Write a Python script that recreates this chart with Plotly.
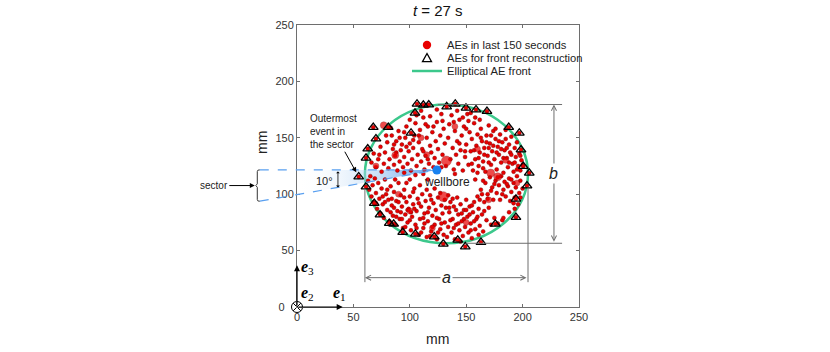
import math
import plotly.graph_objects as go

# fitted elliptical AE front at t = 27 s (mm)
front_center = (132.5, 118.0)
front_semi_axes = (72.3, 61.5)

wellbore = (124.0, 121.5)
sector_deg = 10
sector_reach = -33.0  # mm, left end of the dashed sector lines

# AEs in the last 150 s, split by quadrant around the front centre (mm)
ae_upper_left = [
    (66, 128), (68, 136), (70, 124), (72, 131), (74, 142), (75, 120), (77, 127), (78, 137), (80, 146), (81, 123),
    (82, 131), (84, 152), (85, 140), (86, 126), (87, 134), (88, 147), (89, 121), (90, 156), (91, 129), (92, 139),
    (93, 144), (94, 124), (95, 133), (96, 150), (97, 160), (98, 127), (99, 138), (100, 145), (101, 121), (102, 131),
    (103, 141), (104, 152), (105, 163), (106, 125), (107, 135), (108, 146), (109, 157), (110, 129), (111, 140), (112, 168),
    (113, 122), (114, 134), (115, 150), (116, 160), (117, 127), (118, 143), (119, 137), (120, 155), (121, 124), (122, 132),
    (123, 147), (124, 164), (125, 140), (126, 128), (127, 152), (128, 171), (129, 135), (130, 158), (131, 145), (132, 125),
    (110, 174), (118, 169), (124, 175), (100, 166), (95, 155), (86, 144), (79, 152), (73, 135), (83, 159), (106, 170),
    (114, 162), (121, 160), (129, 165), (103, 148), (97, 142), (91, 150), (88, 137), (112, 138), (116, 131), (108, 152),
    (112, 118), (116, 113), (105, 117), (100, 113), (95, 119), (128, 124),
]
ae_upper_right = [
    (134, 150), (135, 162), (136, 131), (137, 170), (138, 141), (139, 122), (140, 156), (141, 135), (142, 147), (143, 127),
    (144, 166), (145, 139), (146, 152), (147, 121), (148, 160), (149, 133), (150, 144), (151, 171), (152, 126), (153, 155),
    (154, 138), (155, 149), (156, 121), (157, 163), (158, 131), (159, 143), (160, 153), (161, 125), (162, 137), (163, 158),
    (164, 147), (165, 129), (166, 141), (167, 120), (168, 152), (169, 134), (170, 161), (171, 145), (172, 126), (173, 138),
    (174, 156), (175, 131), (176, 149), (177, 122), (178, 142), (179, 135), (180, 153), (181, 128), (182, 146), (183, 119),
    (184, 139), (185, 157), (186, 132), (187, 124), (188, 144), (189, 137), (190, 151), (191, 127), (192, 120), (193, 141),
    (194, 133), (195, 146), (196, 125), (197, 136), (198, 121), (199, 130), (200, 126), (152, 165), (158, 168), (163, 150),
    (166, 135), (170, 128), (174, 143), (177, 137), (179, 147), (183, 132), (186, 141), (188, 128), (190, 135), (161, 132),
    (157, 139), (168, 146), (172, 152), (176, 158), (181, 140), (185, 149), (193, 128), (170, 141), (165, 123), (160, 119),
    (155, 127), (149, 138), (144, 145), (139, 164), (142, 174), (147, 168), (154, 172), (162, 166), (150, 158), (195, 122),
    (198, 134), (140, 118),
]
ae_lower_left = [
    (63, 112), (64, 104), (65, 116), (66, 98), (67, 108), (68, 93), (69, 114), (70, 101), (71, 87), (72, 110),
    (73, 96), (74, 83), (75, 105), (76, 91), (77, 79), (78, 113), (79, 100), (80, 86), (81, 95), (82, 76),
    (83, 107), (84, 90), (85, 81), (86, 102), (87, 73), (88, 94), (89, 85), (90, 110), (91, 78), (92, 99),
    (93, 89), (94, 70), (95, 104), (96, 82), (97, 93), (98, 75), (99, 87), (100, 98), (101, 68), (102, 80),
    (103, 91), (104, 105), (105, 73), (106, 85), (107, 96), (108, 64), (109, 78), (110, 89), (111, 100), (112, 70),
    (113, 83), (114, 94), (115, 62), (116, 76), (117, 88), (118, 99), (119, 67), (120, 81), (121, 92), (122, 73),
    (123, 86), (124, 60), (125, 97), (126, 78), (127, 69), (128, 90), (129, 83), (130, 64), (131, 75), (132, 88),
    (80, 104), (86, 88), (92, 84), (96, 71), (100, 77), (104, 87), (108, 92), (112, 79), (116, 84), (120, 71),
    (124, 79), (128, 74), (110, 66), (118, 63), (106, 70), (98, 86), (88, 80), (84, 96), (76, 98), (70, 92),
    (115, 104), (103, 102), (95, 97), (90, 93), (119, 95), (125, 66), (113, 74), (101, 84), (131, 95), (127, 101),
    (122, 105), (109, 108), (97, 110), (87, 113), (78, 93), (83, 84), (93, 78),
]
ae_lower_right = [
    (133, 62), (134, 71), (135, 84), (136, 93), (137, 66), (138, 78), (139, 89), (140, 60), (141, 73), (142, 97),
    (143, 82), (144, 68), (145, 91), (146, 76), (147, 63), (148, 86), (149, 71), (150, 95), (151, 80), (152, 66),
    (153, 89), (154, 74), (155, 61), (156, 84), (157, 93), (158, 69), (159, 78), (160, 98), (161, 87), (162, 72),
    (163, 104), (164, 82), (165, 67), (166, 93), (167, 110), (168, 77), (169, 100), (170, 88), (171, 115), (172, 73),
    (173, 106), (174, 95), (175, 79), (176, 112), (177, 101), (178, 74), (179, 108), (180, 95), (181, 116), (182, 77),
    (183, 104), (184, 111), (185, 98), (183, 79), (187, 107), (188, 114), (189, 94), (190, 102), (188, 84), (192, 110),
    (193, 97), (194, 106), (195, 116), (196, 91), (197, 101), (198, 112), (198, 97), (200, 105), (165, 112), (169, 96),
    (172, 103), (175, 109), (178, 115), (182, 100), (186, 109), (190, 113), (164, 100), (158, 113), (162, 95), (166, 85),
    (160, 80), (155, 90), (150, 86), (146, 83), (143, 74), (139, 70), (136, 77), (141, 86), (148, 78), (153, 82),
    (157, 76), (161, 64), (154, 68), (145, 58), (135, 88), (138, 96), (134, 99), (192, 92), (193, 87),
]

# stronger events (drawn with bigger dots)
big_x = [132.4, 129.7, 171.7, 177.9, 76.9, 87.1, 110, 160, 150, 100, 185, 90, 170, 120, 140, 70, 195, 115]
big_y = [129.4, 97.8, 118.8, 115.5, 161.1, 134.5, 150, 140, 75, 85, 130, 100, 95, 70, 160, 125, 110, 135]
big_size = [10, 10, 8, 8, 7, 7, 6, 6, 6, 6, 6, 6, 6, 6, 6, 6, 6, 6]

# events used for the front reconstruction
front_x = [106.4, 112.0, 116.8, 132.7, 140.3, 149.8, 158.7, 168.4, 104.6, 67.6, 80.9, 101.1, 187.7,
           197.1, 70.0, 62.7, 61.2, 198.6, 200.6, 205.9, 203.9, 54.7, 61.2, 194.1, 68.5, 73.6, 194.1,
           81.8, 85.7, 175.8, 93.7, 104.9, 121.7, 142.5, 129.7, 149.2, 163.1]
front_y = [180.0, 179.1, 179.3, 177.6, 180.0, 176.4, 174.9, 173.5, 172.0, 159.3, 159.3, 154.3, 159.3,
           154.3, 149.2, 140.3, 132.1, 139.4, 124.7, 118.8, 107.5, 115.5, 106.6, 95.7, 91.9, 81.8, 79.5,
           74.2, 73.6, 73.6, 66.2, 64.7, 62.3, 59.4, 55.9, 53.5, 57.4]
outermost = (54.7, 115.5)

legend_labels = ["AEs in last 150 seconds", "AEs for front reconstruction", "Elliptical AE front"]

FONT = "Liberation Sans, Arial, sans-serif"
SERIF = "Liberation Serif, Times New Roman, serif"
RED = "rgb(232,0,0)"
GREEN = "rgb(60,200,140)"
BLUE = "rgb(25,130,240)"
GRAY = "#6e6e6e"
AX = 250.0  # axis span, both axes go 0..250
PLOT_PX = 282.0  # plot area side in pixels
L, T = 297, 25   # plot area offset in the page


def paper(v):
    return v / AX


def pix(px, py):
    # page pixel -> paper coords (for hand-placed decorations)
    return (px - L) / PLOT_PX, (T + PLOT_PX - py) / PLOT_PX


all_ae = ae_upper_left + ae_upper_right + ae_lower_left + ae_lower_right
ae_x = [p[0] for p in all_ae]
ae_y = [p[1] for p in all_ae]

cx, cy = front_center
sa, sb = front_semi_axes
wx, wy = wellbore
tan_s = math.tan(math.radians(sector_deg))
low_y_left = wy - (wx - sector_reach) * tan_s

fig = go.Figure()

# sector wedge, fading out to the left
wedge_left = 0.0
fig.add_trace(go.Scatter(
    x=[wedge_left, wx, wedge_left, wedge_left],
    y=[wy, wy, wy - (wx - wedge_left) * tan_s, wy],
    mode="lines", line=dict(width=0), fill="toself",
    fillgradient=dict(type="horizontal",
                      colorscale=[[0, "rgba(255,255,255,0)"], [0.45, "rgba(185,215,245,0.45)"],
                                  [1, "rgba(70,145,230,0.9)"]]),
    showlegend=False, hoverinfo="skip"))

dot_line = dict(width=0.4, color="rgb(110,0,0)")
fig.add_trace(go.Scatter(x=ae_x + front_x, y=ae_y + front_y, mode="markers",
                         marker=dict(size=4, color=RED, line=dot_line), showlegend=False))
fig.add_trace(go.Scatter(x=big_x, y=big_y, mode="markers",
                         marker=dict(size=big_size, color=RED, line=dot_line), showlegend=False))
fig.add_trace(go.Scatter(x=front_x, y=front_y, mode="markers",
                         marker=dict(symbol="triangle-up-open", size=8.5, color="black", line=dict(width=1.3)),
                         showlegend=False))
fig.add_trace(go.Scatter(x=[wx], y=[wy], mode="markers",
                         marker=dict(size=9, color=BLUE), showlegend=False))
# e2 axis (out of plane)
fig.add_trace(go.Scatter(x=[0], y=[0], mode="markers", cliponaxis=False,
                         marker=dict(symbol="circle-x-open", size=11, color="black", line=dict(width=1)),
                         showlegend=False))

shapes = []
# the elliptical front
shapes.append(dict(type="circle", xref="x", yref="y", x0=cx - sa, x1=cx + sa, y0=cy - sb, y1=cy + sb,
                   line=dict(color=GREEN, width=2.5), layer="below"))
# dashed sector edges (run past the axis, so in paper units)
for y_end in (wy, low_y_left):
    shapes.append(dict(type="line", xref="paper", yref="paper",
                       x0=paper(sector_reach), y0=paper(y_end), x1=paper(wx), y1=paper(wy),
                       line=dict(color="rgb(90,160,240)", width=1.2, dash="dash")))
# brace next to "sector"
bx0, bx1 = paper(sector_reach - 3.5), paper(sector_reach)
bxm = paper(sector_reach - 2.2)
yt, yb = paper(wy), paper(low_y_left)
ym = (yt + yb) / 2
r = 0.006
shapes.append(dict(type="path", xref="paper", yref="paper",
                   path=(f"M{bx1},{yt} L{bxm + r},{yt} Q{bxm},{yt} {bxm},{yt - r} L{bxm},{ym + r} "
                         f"L{bx0},{ym} L{bxm},{ym - r} L{bxm},{yb + r} Q{bxm},{yb} {bxm + r},{yb} L{bx1},{yb}"),
                   line=dict(color="#333", width=1)))
# dimension extension lines
b_x = 227.8
ext_end = 235.0
a_y = 26.0
ext_low = 22.0
shapes += [
    dict(type="line", xref="x", yref="y", x0=125, x1=ext_end, y0=cy + sb, y1=cy + sb, line=dict(color=GRAY, width=1)),
    dict(type="line", xref="x", yref="y", x0=150, x1=ext_end, y0=cy - sb, y1=cy - sb, line=dict(color=GRAY, width=1)),
    dict(type="line", xref="x", yref="y", x0=cx - sa, x1=cx - sa, y0=105, y1=ext_low, line=dict(color=GRAY, width=1)),
    dict(type="line", xref="x", yref="y", x0=cx + sa, x1=cx + sa, y0=106, y1=ext_low, line=dict(color=GRAY, width=1)),
]

ann = []
# hand-made legend (tighter rows than plotly's own)
lg_x, lg_y0, lg_dy = 427, 45, 13
dx, dy = pix(lg_x, lg_y0)
rr = 4.2 / PLOT_PX
shapes.append(dict(type="circle", xref="paper", yref="paper", x0=dx - rr, x1=dx + rr, y0=dy - rr, y1=dy + rr,
                   fillcolor=RED, line=dict(width=0)))
tx, ty = pix(lg_x, lg_y0 + lg_dy)
h = 4.5 / PLOT_PX
shapes.append(dict(type="path", xref="paper", yref="paper",
                   path=f"M{tx - h},{ty - h * 0.8} L{tx + h},{ty - h * 0.8} L{tx},{ty + h} Z",
                   line=dict(color="black", width=1.3)))
gx, gy = pix(lg_x, lg_y0 + 2 * lg_dy)
shapes.append(dict(type="line", xref="paper", yref="paper", x0=gx - 15 / PLOT_PX, x1=gx + 15 / PLOT_PX,
                   y0=gy, y1=gy, line=dict(color=GREEN, width=2.5)))
for i, lab in enumerate(legend_labels):
    lx, ly = pix(445, lg_y0 + i * lg_dy)
    ann.append(dict(x=lx, y=ly, xref="paper", yref="paper", text=lab, showarrow=False, xanchor="left",
                    yanchor="middle", font=dict(size=11.2, color="#222", family=FONT)))

# title and axis titles
ann.append(dict(x=0.5, y=pix(0, 10)[1], xref="paper", yref="paper", text="<i>t</i> = 27 s", showarrow=False,
                yanchor="middle", font=dict(size=15, color="#111", family=FONT)))
xt = pix(437, 339)
ann.append(dict(x=xt[0], y=xt[1], xref="paper", yref="paper", text="mm", showarrow=False,
                yanchor="middle", font=dict(size=14, color="#222", family=FONT)))
ytl = pix(262, 143)
ann.append(dict(x=ytl[0], y=ytl[1], xref="paper", yref="paper", text="mm", showarrow=False, textangle=-90,
                xanchor="center", yanchor="middle", font=dict(size=14, color="#222", family=FONT)))
# dimension arrows a and b
ann.append(dict(x=b_x, y=cy + sb, ax=b_x, ay=cy - sb, axref="x", ayref="y", xref="x", yref="y", text="",
                showarrow=True, arrowside="end+start", arrowhead=5, arrowsize=1, arrowwidth=1, arrowcolor=GRAY))
ann.append(dict(x=cx - sa, y=a_y, ax=cx + sa, ay=a_y, axref="x", ayref="y", xref="x", yref="y", text="",
                showarrow=True, arrowside="end+start", arrowhead=5, arrowsize=1, arrowwidth=1, arrowcolor=GRAY))
ann.append(dict(x=b_x, y=cy, xref="x", yref="y", text="<i>b</i>", showarrow=False, bgcolor="white",
                font=dict(size=16, color="#222", family=FONT)))
ann.append(dict(x=cx, y=a_y, xref="x", yref="y", text="<i>a</i>", showarrow=False, bgcolor="white",
                font=dict(size=16, color="#222", family=FONT)))
# wellbore label
ann.append(dict(x=133, y=110.5, xref="x", yref="y", text="wellbore", showarrow=False,
                font=dict(size=12, color="#222", family=FONT)))
# sector angle
ar_x = 36.3
ann.append(dict(x=ar_x, y=wy - (wx - ar_x) * tan_s, ax=ar_x, ay=wy, axref="x", ayref="y", xref="x", yref="y",
                text="", showarrow=True, arrowside="end+start", arrowhead=1, arrowsize=0.8, arrowwidth=0.8,
                arrowcolor="black"))
ann.append(dict(x=24.8, y=111.3, xref="x", yref="y", text="10°", showarrow=False,
                font=dict(size=11, color="#222", family=FONT)))
# outermost event
ann.append(dict(x=outermost[0], y=outermost[1], xref="x", yref="y", text="Outermost<br>event in<br>the sector",
                align="left", showarrow=True, ax=-25, ay=-45, arrowhead=2, arrowsize=1, arrowwidth=1,
                arrowcolor="black", standoff=5, font=dict(size=10, color="#222", family=FONT)))
# sector label
ann.append(dict(x=bx0, y=ym, xref="paper", yref="paper", text="sector", showarrow=True, ax=-42, ay=0,
                arrowhead=2, arrowsize=1, arrowwidth=1, arrowcolor="black", standoff=1,
                font=dict(size=10, color="#222", family=FONT)))
# e1 / e3 basis arrows
e3_len, e1_len = 37.0, 40.5
ann.append(dict(x=0, y=e3_len, ax=0, ay=0, axref="x", ayref="y", xref="x", yref="y", text="", showarrow=True,
                arrowhead=2, arrowsize=1, arrowwidth=1.2, arrowcolor="black"))
ann.append(dict(x=e1_len, y=0, ax=0, ay=0, axref="x", ayref="y", xref="x", yref="y", text="", showarrow=True,
                arrowhead=2, arrowsize=1, arrowwidth=1.2, arrowcolor="black"))
for lab, lx, ly in (("3", 9.5, 35.2), ("2", 9.5, 12.4), ("1", 38.1, 12.4)):
    ann.append(dict(x=lx, y=ly, xref="x", yref="y", text=f"<b><i>e</i></b><sub>{lab}</sub>", showarrow=False,
                    font=dict(size=16, color="black", family=SERIF)))

ticks = [0, 50, 100, 150, 200, 250]
axis_common = dict(range=[0, AX], tickvals=ticks, ticks="inside", ticklen=3,
                   tickcolor=GRAY, showline=True, linecolor=GRAY, linewidth=1, mirror="ticks",
                   showgrid=False, zeroline=False, tickfont=dict(size=11, color="#333", family=FONT),
                   automargin=False)
fig.update_xaxes(**axis_common)
# y "0" label nudged left of the e2 symbol
fig.update_yaxes(**axis_common, ticktext=["0\u00a0\u00a0\u00a0"] + [str(t) for t in ticks[1:]])

fig.update_layout(
    width=830, height=352,
    margin=dict(l=L, r=830 - L - int(PLOT_PX), t=T, b=352 - T - int(PLOT_PX)),
    plot_bgcolor="white", paper_bgcolor="white",
    font=dict(family=FONT),
    showlegend=False,
    shapes=shapes,
    annotations=ann,
)

fig.write_html("out.html", config={"displayModeBar": False},
               post_script="document.body.style.margin='0';")
